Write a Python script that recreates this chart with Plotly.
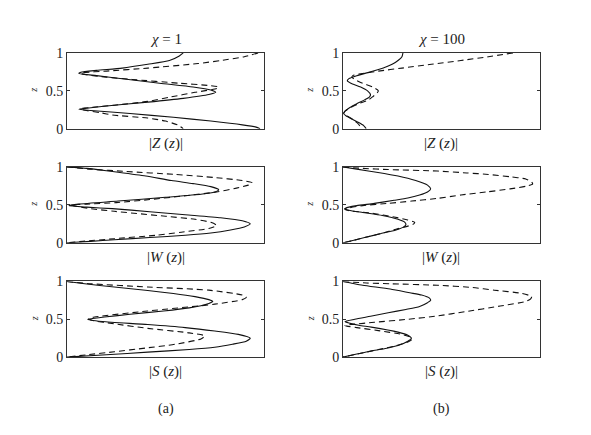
import plotly.graph_objects as go

# ---------------- data ----------------
# panel |Z(z)|, chi = 1
z_Z1_solid = [1.0, 0.96, 0.9, 0.85, 0.8, 0.77, 0.745, 0.73, 0.70, 0.66, 0.6, 0.55, 0.51, 0.48, 0.45, 0.4, 0.35, 0.3, 0.27, 0.255, 0.24, 0.2, 0.15, 0.1, 0.05, 0.02, 0.0]
x_Z1_solid = [0.59, 0.57, 0.52, 0.41, 0.28, 0.15, 0.07, 0.06, 0.15, 0.28, 0.47, 0.64, 0.73, 0.755, 0.72, 0.59, 0.41, 0.2, 0.1, 0.06, 0.12, 0.32, 0.54, 0.73, 0.89, 0.96, 0.98]
z_Z1_dash = [1.0, 0.95, 0.9, 0.86, 0.8, 0.76, 0.735, 0.72, 0.68, 0.65, 0.6, 0.57, 0.55, 0.53, 0.48, 0.42, 0.36, 0.31, 0.28, 0.265, 0.25, 0.21, 0.18, 0.14, 0.1, 0.05, 0.0]
x_Z1_dash = [0.97, 0.9, 0.78, 0.665, 0.41, 0.2, 0.07, 0.08, 0.2, 0.33, 0.57, 0.72, 0.77, 0.76, 0.65, 0.53, 0.41, 0.24, 0.12, 0.07, 0.08, 0.17, 0.23, 0.41, 0.5, 0.56, 0.59]

# panel |Z(z)|, chi = 100
z_Z100_solid = [1.0, 0.95, 0.9, 0.85, 0.8, 0.75, 0.7, 0.66, 0.63, 0.6, 0.55, 0.5, 0.45, 0.42, 0.38, 0.33, 0.28, 0.23, 0.2, 0.17, 0.12, 0.08, 0.04, 0.0]
x_Z100_solid = [0.305, 0.3, 0.28, 0.25, 0.205, 0.14, 0.07, 0.03, 0.022, 0.04, 0.09, 0.125, 0.14, 0.135, 0.11, 0.07, 0.035, 0.01, 0.003, 0.015, 0.05, 0.08, 0.105, 0.118]
z_Z100_dash = [1.0, 0.95, 0.9, 0.85, 0.8, 0.76, 0.72, 0.7, 0.68, 0.65, 0.6, 0.55, 0.5, 0.46, 0.42, 0.38, 0.33, 0.28, 0.23, 0.2, 0.17, 0.12, 0.07, 0.03, 0.0]
x_Z100_dash = [0.865, 0.74, 0.6, 0.45, 0.3, 0.18, 0.08, 0.05, 0.045, 0.06, 0.1, 0.15, 0.18, 0.17, 0.15, 0.13, 0.08, 0.04, 0.01, 0.005, 0.02, 0.05, 0.075, 0.087, 0.09]

# panel |W(z)|, chi = 1
z_W1_solid = [1.0, 0.98, 0.95, 0.93, 0.88, 0.82, 0.78, 0.74, 0.7, 0.67, 0.64, 0.6, 0.55, 0.51, 0.49, 0.47, 0.45, 0.41, 0.37, 0.33, 0.29, 0.25, 0.21, 0.17, 0.13, 0.1, 0.07, 0.04, 0.02, 0.0]
x_W1_solid = [0.0, 0.1, 0.2, 0.26, 0.4, 0.53, 0.64, 0.73, 0.77, 0.75, 0.68, 0.5, 0.26, 0.06, 0.01, 0.1, 0.23, 0.42, 0.6, 0.78, 0.89, 0.93, 0.9, 0.83, 0.73, 0.6, 0.42, 0.24, 0.12, 0.0]
z_W1_dash = [1.0, 0.97, 0.94, 0.9, 0.86, 0.82, 0.79, 0.76, 0.72, 0.67, 0.62, 0.57, 0.53, 0.51, 0.5, 0.48, 0.45, 0.415, 0.35, 0.31, 0.27, 0.23, 0.19, 0.14, 0.1, 0.055, 0.02, 0.0]
x_W1_dash = [0.0, 0.12, 0.3, 0.55, 0.75, 0.89, 0.94, 0.92, 0.86, 0.76, 0.6, 0.42, 0.25, 0.1, 0.02, 0.05, 0.12, 0.24, 0.5, 0.65, 0.73, 0.76, 0.72, 0.58, 0.45, 0.24, 0.08, 0.0]

# panel |W(z)|, chi = 100
z_W100_solid = [1.0, 0.97, 0.93, 0.88, 0.82, 0.76, 0.71, 0.67, 0.63, 0.59, 0.56, 0.52, 0.49, 0.47, 0.45, 0.43, 0.4, 0.36, 0.31, 0.27, 0.24, 0.21, 0.17, 0.12, 0.07, 0.03, 0.0]
x_W100_solid = [0.0, 0.07, 0.17, 0.28, 0.37, 0.43, 0.446, 0.43, 0.39, 0.33, 0.26, 0.16, 0.07, 0.03, 0.008, 0.03, 0.1, 0.2, 0.28, 0.315, 0.32, 0.31, 0.27, 0.19, 0.11, 0.05, 0.0]
z_W100_dash = [1.0, 0.98, 0.965, 0.945, 0.92, 0.9, 0.87, 0.84, 0.8, 0.775, 0.75, 0.71, 0.67, 0.63, 0.585, 0.55, 0.52, 0.49, 0.46, 0.44, 0.42, 0.39, 0.34, 0.3, 0.27, 0.25, 0.22, 0.18, 0.12, 0.07, 0.03, 0.0]
x_W100_dash = [0.0, 0.1, 0.23, 0.48, 0.63, 0.74, 0.85, 0.93, 0.96, 0.965, 0.94, 0.85, 0.73, 0.6, 0.48, 0.35, 0.23, 0.1, 0.03, 0.01, 0.04, 0.15, 0.26, 0.33, 0.365, 0.36, 0.33, 0.27, 0.19, 0.11, 0.05, 0.0]

# panel |S(z)|, chi = 1
z_S1_solid = [1.0, 0.97, 0.927, 0.88, 0.842, 0.8, 0.76, 0.735, 0.71, 0.68, 0.651, 0.61, 0.566, 0.53, 0.51, 0.5, 0.49, 0.47, 0.43, 0.39, 0.345, 0.3, 0.25, 0.21, 0.17, 0.13, 0.1, 0.066, 0.03, 0.0]
x_S1_solid = [0.0, 0.09, 0.24, 0.41, 0.54, 0.65, 0.72, 0.74, 0.72, 0.68, 0.62, 0.49, 0.32, 0.19, 0.13, 0.105, 0.12, 0.18, 0.41, 0.6, 0.75, 0.87, 0.93, 0.91, 0.84, 0.75, 0.62, 0.41, 0.2, 0.0]
z_S1_dash = [1.0, 0.97, 0.927, 0.885, 0.82, 0.79, 0.76, 0.7, 0.61, 0.53, 0.51, 0.49, 0.44, 0.38, 0.32, 0.28, 0.24, 0.17, 0.12, 0.07, 0.03, 0.0]
x_S1_dash = [0.0, 0.12, 0.41, 0.72, 0.89, 0.91, 0.89, 0.75, 0.41, 0.14, 0.11, 0.12, 0.24, 0.41, 0.62, 0.7, 0.68, 0.55, 0.4, 0.24, 0.1, 0.0]

# panel |S(z)|, chi = 100
z_S100_solid = [1.0, 0.98, 0.95, 0.9, 0.85, 0.82, 0.78, 0.75, 0.72, 0.67, 0.63, 0.586, 0.54, 0.5, 0.47, 0.45, 0.42, 0.396, 0.33, 0.29, 0.25, 0.21, 0.153, 0.11, 0.08, 0.04, 0.0]
x_S100_solid = [0.0, 0.04, 0.1, 0.24, 0.34, 0.4, 0.44, 0.446, 0.43, 0.39, 0.32, 0.23, 0.14, 0.06, 0.01, 0.03, 0.08, 0.144, 0.28, 0.33, 0.348, 0.33, 0.28, 0.21, 0.144, 0.07, 0.0]
z_S100_dash = [1.0, 0.98, 0.97, 0.95, 0.92, 0.885, 0.843, 0.8, 0.77, 0.736, 0.675, 0.6, 0.544, 0.5, 0.46, 0.43, 0.415, 0.39, 0.35, 0.3, 0.26, 0.23, 0.2, 0.15, 0.1, 0.05, 0.0]
x_S100_dash = [0.0, 0.12, 0.24, 0.48, 0.66, 0.77, 0.91, 0.96, 0.955, 0.93, 0.8, 0.62, 0.48, 0.33, 0.16, 0.04, 0.01, 0.07, 0.18, 0.3, 0.345, 0.35, 0.33, 0.27, 0.18, 0.09, 0.0]

y_tick_vals = [0, 0.5, 1]
y_tick_text = ["0", "0.5", "1"]
col_titles = ["χ", "χ"]
col_title_vals = ["1", "100"]
row_labels = ["Z", "W", "S"]
col_captions = ["(a)", "(b)"]

panels = [
    (z_Z1_solid, x_Z1_solid, z_Z1_dash, x_Z1_dash),
    (z_Z100_solid, x_Z100_solid, z_Z100_dash, x_Z100_dash),
    (z_W1_solid, x_W1_solid, z_W1_dash, x_W1_dash),
    (z_W100_solid, x_W100_solid, z_W100_dash, x_W100_dash),
    (z_S1_solid, x_S1_solid, z_S1_dash, x_S1_dash),
    (z_S100_solid, x_S100_solid, z_S100_dash, x_S100_dash),
]

# ---------------- layout geometry ----------------
W, H = 591, 435
col_px = [(59, 256), (335, 531.5)]
row_px = [(39.3, 117.7), (157.3, 236), (276, 354.3)]

def px(x):
    return x / W

def py(y):
    return 1 - y / H

fig = go.Figure()
SERIF = "Liberation Serif"
line_col = "#111111"
axis_col = "#333333"
txt_col = "#222222"

layout = dict(
    width=W, height=H,
    margin=dict(l=0, r=0, t=0, b=0),
    paper_bgcolor="white", plot_bgcolor="white",
    showlegend=False,
    font=dict(family=SERIF, size=13, color=txt_col),
)

annotations = []
for i, (zs, xs, zd, xd) in enumerate(panels):
    r, c = divmod(i, 2)
    n = i + 1
    xa = "x" if n == 1 else f"x{n}"
    ya = "y" if n == 1 else f"y{n}"
    fig.add_trace(go.Scatter(x=xs, y=zs, mode="lines", xaxis=xa, yaxis=ya,
                             line=dict(color=line_col, width=1.1, shape="spline", smoothing=0.6)))
    fig.add_trace(go.Scatter(x=xd, y=zd, mode="lines", xaxis=xa, yaxis=ya,
                             line=dict(color=line_col, width=1.1, shape="spline", smoothing=0.6,
                                       dash="6px,4px")))
    xk = "xaxis" if n == 1 else f"xaxis{n}"
    yk = "yaxis" if n == 1 else f"yaxis{n}"
    x0, x1 = col_px[c]
    y0, y1 = row_px[r]
    layout[xk] = dict(domain=[px(x0), px(x1)], range=[0, 1], anchor=ya,
                      showgrid=False, zeroline=False, showticklabels=False, ticks="",
                      showline=True, mirror=True, linecolor=axis_col, linewidth=1)
    layout[yk] = dict(domain=[py(y1), py(y0)], range=[0, 1], anchor=xa,
                      showgrid=False, zeroline=False, tickvals=y_tick_vals, ticktext=y_tick_text,
                      ticks="inside", ticklen=3, tickcolor=axis_col, mirror="ticks",
                      showline=True, linecolor=axis_col, linewidth=1,
                      tickfont=dict(family=SERIF, size=14, color=txt_col))
    # x label
    annotations.append(dict(xref="paper", yref="paper", x=px((x0 + x1) / 2), y=py(y1 + 15),
                            text=f"|<i>{row_labels[r]}</i> (<i>z</i>)|",
                            showarrow=False,
                            font=dict(family=SERIF, size=15, color=txt_col),
                            xanchor="center", yanchor="middle"))
    # y label
    annotations.append(dict(xref="paper", yref="paper", x=px(x0 - 33), y=py((y0 + y1) / 2),
                            text="<i>z</i>", showarrow=False, textangle=-90,
                            font=dict(family=SERIF, size=10, color=txt_col),
                            xanchor="center", yanchor="middle"))

for c in range(2):
    x0, x1 = col_px[c]
    annotations.append(dict(xref="paper", yref="paper", x=px((x0 + x1) / 2), y=py(25),
                            text=f"<i>{col_titles[c]}</i> = {col_title_vals[c]}", showarrow=False,
                            font=dict(family=SERIF, size=15, color=txt_col),
                            xanchor="center", yanchor="middle"))
    annotations.append(dict(xref="paper", yref="paper", x=px((x0 + x1) / 2), y=py(408),
                            text=col_captions[c], showarrow=False,
                            font=dict(family=SERIF, size=14, color=txt_col),
                            xanchor="center", yanchor="middle"))

layout["annotations"] = annotations
fig.update_layout(**layout)
fig.write_html("out.html")
